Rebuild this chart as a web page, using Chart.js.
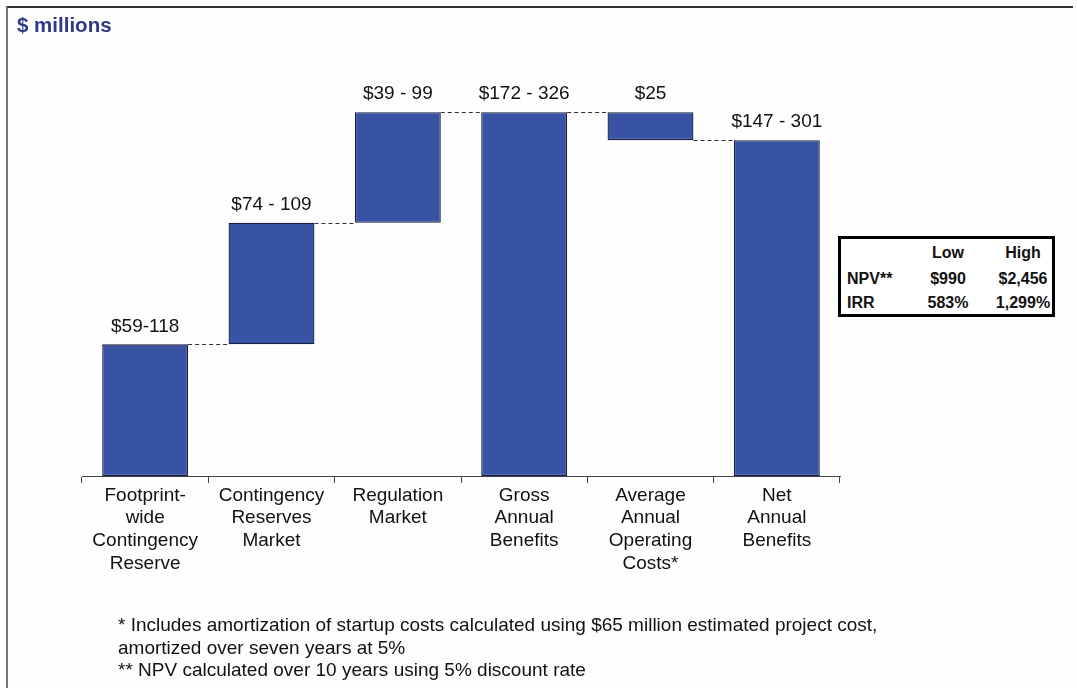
<!DOCTYPE html>
<html>
<head>
<meta charset="utf-8">
<script src="https://cdn.jsdelivr.net/npm/chart.js@4"></script>
<style>
  html, body { margin: 0; padding: 0; background: #fefefe; }
  body { width: 1077px; height: 688px; position: relative; overflow: hidden;
         font-family: "Liberation Sans", Arial, sans-serif; }
  #frame { position: absolute; left: 6px; top: 6px; right: 4px; bottom: -10px;
           border-top: 2px solid #333; border-left: 2px solid #777; }
  #title { position: absolute; left: 17px; top: 13px; font-size: 20.5px; font-weight: bold;
           color: #2e3a87; }
  #wrap { position: absolute; left: 0; top: 0; width: 1077px; height: 688px; }
  #npv { position: absolute; left: 838px; top: 236px; width: 211px; height: 75px;
         border: 3px solid #000; background: #fff; font-size: 16px; font-weight: bold; color: #111; }
  #npv span { position: absolute; transform: translate(-50%, -50%); white-space: nowrap; }
  #npv span.lbl { transform: translate(0, -50%); }
  #notes { position: absolute; left: 118px; top: 614px; font-size: 19px; line-height: 22.5px; color: #111; }
</style>
</head>
<body>
<div id="frame"></div>
<div id="wrap"><canvas id="chart" width="1077" height="688"></canvas></div>
<div id="title">$ millions</div>
<div id="npv"></div>
<div id="notes">
  * Includes amortization of startup costs calculated using $65 million estimated project cost,<br>
  amortized over seven years at 5%<br>
  ** NPV calculated over 10 years using 5% discount rate
</div>
<script>
const categories = [
  ["Footprint-", "wide", "Contingency", "Reserve"],
  ["Contingency", "Reserves", "Market"],
  ["Regulation", "Market"],
  ["Gross", "Annual", "Benefits"],
  ["Average", "Annual", "Operating", "Costs*"],
  ["Net", "Annual", "Benefits"],
];
const lowValues = [59, 74, 39, 172, 25, 147];
const highValues = [118, 109, 99, 326, 25, 301];
const barKinds = ["add", "add", "add", "total", "subtract", "total"];
const valueLabels = ["$59-118", "$74 - 109", "$39 - 99", "$172 - 326", "$25", "$147 - 301"];

const tableCols = ["Low", "High"];
const tableRows = ["NPV**", "IRR"];
const tableValues = [["$990", "$2,456"], ["583%", "1,299%"]];

// waterfall: each bar floats from the running total
let running = 0;
const levels = [];
const bars = highValues.map((v, i) => {
  let b;
  if (barKinds[i] === "add") { b = [running, running + v]; running += v; }
  else if (barKinds[i] === "subtract") { b = [running - v, running]; running -= v; }
  else { b = [0, v]; running = v; }
  levels.push(running);
  return b;
});

// small NPV / IRR box
const npv = document.getElementById("npv");
const colX = [107, 182];
const rowY = [14, 40, 64];
tableCols.forEach((c, j) => {
  npv.insertAdjacentHTML("beforeend", `<span style="left:${colX[j]}px;top:${rowY[0]}px">${c}</span>`);
});
tableRows.forEach((r, i) => {
  npv.insertAdjacentHTML("beforeend", `<span class="lbl" style="left:6px;top:${rowY[i + 1]}px">${r}</span>`);
  tableValues[i].forEach((v, j) => {
    npv.insertAdjacentHTML("beforeend", `<span style="left:${colX[j]}px;top:${rowY[i + 1]}px">${v}</span>`);
  });
});

const waterfallExtras = {
  id: "waterfallExtras",
  afterDatasetsDraw(chart) {
    const ctx = chart.ctx;
    const meta = chart.getDatasetMeta(0);
    const y = chart.scales.y;
    ctx.save();
    // dashed connectors between neighbouring bars
    ctx.strokeStyle = "#333";
    ctx.lineWidth = 1;
    ctx.setLineDash([4, 3]);
    for (let i = 0; i < meta.data.length - 1; i++) {
      const a = meta.data[i], b = meta.data[i + 1];
      const py = Math.round(y.getPixelForValue(levels[i])) + 0.5;
      ctx.beginPath();
      ctx.moveTo(a.x + a.width / 2, py);
      ctx.lineTo(b.x - b.width / 2, py);
      ctx.stroke();
    }
    ctx.setLineDash([]);
    // range labels above each bar
    ctx.fillStyle = "#111";
    ctx.font = '19px "Liberation Sans", Arial, sans-serif';
    ctx.textAlign = "center";
    ctx.textBaseline = "middle";
    meta.data.forEach((el, i) => {
      const top = Math.min(el.y, el.base);
      ctx.fillText(valueLabels[i], el.x, top - 18);
    });
    ctx.restore();
  },
};

new Chart(document.getElementById("chart"), {
  type: "bar",
  data: {
    labels: categories,
    datasets: [{
      data: bars,
      backgroundColor: "#3953a4",
      borderColor: "#141c40",
      borderWidth: 1.3,
      borderSkipped: false,
      categoryPercentage: 1,
      barPercentage: 0.68,
    }],
  },
  options: {
    responsive: false,
    animation: false,
    events: [],
    layout: { padding: { left: 82, right: 237, top: 52, bottom: 112 } },
    plugins: { legend: { display: false }, tooltip: { enabled: false } },
    scales: {
      x: {
        grid: { display: true, drawOnChartArea: false, tickLength: 7, color: "#444" },
        border: { display: true, color: "#444" },
        ticks: {
          color: "#111",
          padding: 1,
          maxRotation: 0,
          autoSkip: false,
          font: { family: '"Liberation Sans", Arial, sans-serif', size: 19, lineHeight: 1.2 },
        },
        afterFit(scale) { scale.height = 100; },
      },
      y: { display: false, min: 0, max: 380 },
    },
  },
  plugins: [waterfallExtras],
});
</script>
</body>
</html>
